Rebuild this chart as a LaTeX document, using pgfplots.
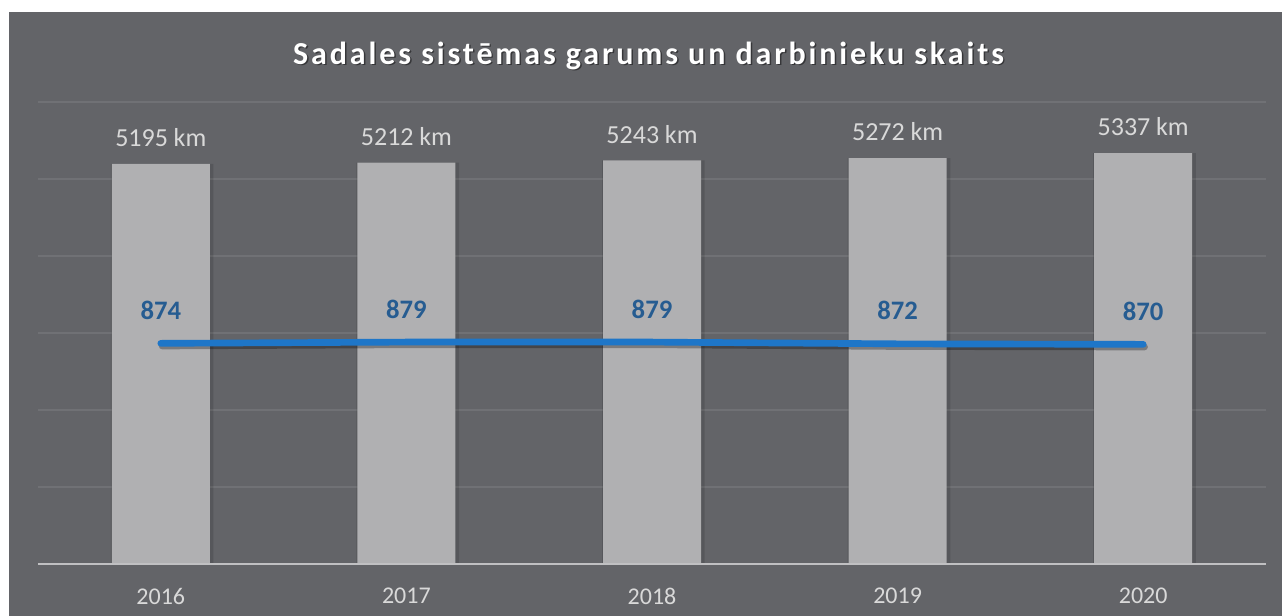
\documentclass[border=0pt]{standalone}
\usepackage{fontspec}
\setmainfont{Carlito}
\usepackage{pgfplots}
\usepackage{pgfplotstable}
\pgfplotsset{compat=1.18}
\definecolor{bg}{RGB}{99,100,104}
\definecolor{barc}{RGB}{176,176,178}
\definecolor{gridc}{RGB}{112,113,117}
\definecolor{basec}{RGB}{192,192,194}
\definecolor{txt}{RGB}{217,217,217}
\definecolor{linec}{RGB}{30,118,200}
\definecolor{lab}{RGB}{38,92,145}
\pgfplotstableread{
x km staff
0 5195 874
1 5212 879
2 5243 879
3 5272 872
4 5337 870
}\data
\begin{document}
\begin{tikzpicture}
\useasboundingbox (0pt,0pt) rectangle (961.5pt,462pt);
\fill[white] (0pt,0pt) rectangle (961.5pt,462pt);
\fill[bg] (6.75pt,0pt) rectangle (961.5pt,453pt);
\node[anchor=base, text=black, opacity=0.45, font=\bfseries\fontsize{24}{28}\selectfont\addfontfeatures{LetterSpace=9}] at (487.5pt,412.6pt) {Sadales sistēmas garums un darbinieku skaits};
\node[anchor=base, text=white, font=\bfseries\fontsize{24}{28}\selectfont\addfontfeatures{LetterSpace=9}] at (486.4pt,413.7pt) {Sadales sistēmas garums un darbinieku skaits};
\begin{axis}[
  at={(28.5pt,39pt)}, anchor=south west, scale only axis,
  width=921pt, height=346.5pt,
  xmin=-0.5, xmax=4.5, ymin=0, ymax=6000,
  axis line style={draw=none},
  major tick length=0pt,
  ytick={1000,2000,3000,4000,5000,6000}, yticklabels={},
  ymajorgrids, grid style={gridc, line width=1.5pt},
  xtick={0,1,2,3,4}, xticklabels={2016,2017,2018,2019,2020},
  xticklabel style={text=txt, font=\fontsize{18}{20}\selectfont, inner sep=0pt, yshift=-18pt},
  /pgf/number format/assume math mode=true,
  clip=false,
]
\addplot[ybar, bar width=77pt, fill=black, fill opacity=0.12, draw=none, xshift=1pt, forget plot]
  table[x=x,y=km]{\data};
\addplot[ybar, bar width=73.5pt, fill=barc, draw=none,
  nodes near coords={\pgfmathprintnumber[1000 sep={}]{\pgfplotspointmeta}\hspace{0.22em}km},
  every node near coord/.append style={anchor=south, inner sep=0pt, yshift=12.5pt, text=txt, font=\fontsize{19.5}{22}\selectfont}]
  table[x=x,y=km]{\data};
\draw[basec, line width=1.5pt] (axis cs:-0.5,0) -- (axis cs:4.5,0);
\end{axis}
\begin{axis}[
  at={(28.5pt,39pt)}, anchor=south west, scale only axis,
  width=921pt, height=346.5pt,
  xmin=-0.5, xmax=4.5, ymin=0, ymax=1830,
  hide axis, clip=false,
  /pgf/number format/assume math mode=true,
]
\addplot[black, opacity=0.3, line width=5pt, line cap=round, yshift=-2pt, xshift=1pt] table[x=x,y=staff]{\data};
\addplot[linec, line width=5pt, line cap=round,
  nodes near coords={\pgfmathprintnumber{\pgfplotspointmeta}},
  every node near coord/.append style={anchor=center, yshift=24.75pt, text=lab, font=\bfseries\fontsize{20}{22}\selectfont}]
  table[x=x,y=staff]{\data};
\end{axis}
\end{tikzpicture}
\end{document}
